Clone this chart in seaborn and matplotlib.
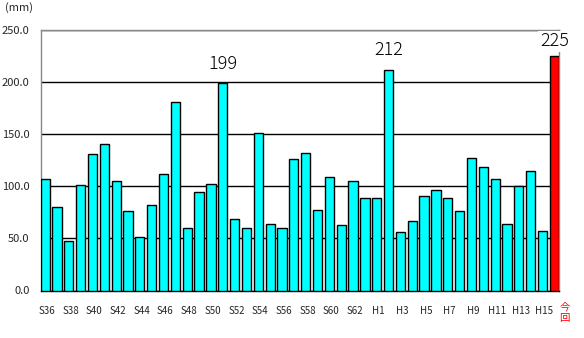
import matplotlib
matplotlib.use("Agg")
import matplotlib.pyplot as plt
import seaborn as sns
import pandas as pd

sns.set_theme(style="white")
plt.rcParams['font.family'] = ['Noto Sans CJK JP', 'DejaVu Sans']

years = ["S36", "S37", "S38", "S39", "S40", "S41", "S42", "S43", "S44", "S45",
         "S46", "S47", "S48", "S49", "S50", "S51", "S52", "S53", "S54", "S55",
         "S56", "S57", "S58", "S59", "S60", "S61", "S62", "S63",
         "H1", "H2", "H3", "H4", "H5", "H6", "H7", "H8", "H9", "H10",
         "H11", "H12", "H13", "H14", "H15", "今回"]
rain = [107, 80, 48, 101, 131, 141, 105, 76, 51, 82,
        112, 181, 60, 95, 102, 199, 69, 60, 151, 64,
        60, 126, 132, 77, 109, 63, 105, 89,
        89, 212, 56, 67, 91, 97, 89, 76, 127, 119,
        107, 64, 100, 115, 57, 225]
kind = ["past"] * 43 + ["now"]
tick_labels = ["S36", "S38", "S40", "S42", "S44", "S46", "S48", "S50", "S52", "S54",
               "S56", "S58", "S60", "S62", "H1", "H3", "H5", "H7", "H9", "H11",
               "H13", "H15"]
current_label = "今\n回"
annotated = ["S51", "H2", "今回"]

df = pd.DataFrame({"year": years, "rain": rain, "kind": kind})

fig = plt.figure(figsize=(5.84, 3.38), dpi=100)
ax = fig.add_axes([40.5 / 584, 1 - 290.5 / 338, (559 - 40.5) / 584, (290.5 - 30.3) / 338])

sns.barplot(data=df, x="year", y="rain", hue="kind",
            palette={"past": "#00FFFF", "now": "#FF0000"}, saturation=1,
            dodge=False, width=0.78, edgecolor="black", linewidth=1.0,
            legend=False, ax=ax, zorder=3)

ax.set_yticks([0, 50, 100, 150, 200, 250])
ax.set_yticklabels(["0.0", "50.0", "100.0", "150.0", "200.0", "250.0"])
ax.yaxis.grid(True, color="black", linewidth=1.0, zorder=0)
ax.xaxis.grid(False)
ax.set_axisbelow(True)

pos = [p + 0.15 for p in range(0, 43, 2)]
ax.set_xticks(pos)
ax.set_xticklabels(tick_labels, fontsize=7)
ax.set_ylim(0, 250)
ax.set_xlim(-0.39, len(years) - 1 + 0.39)

ax.annotate(current_label, xy=(len(years) - 1, 0), xycoords=("data", "axes fraction"),
            xytext=(7.5, -8.5), textcoords="offset points", ha="center", va="top",
            fontsize=7.5, color="red", linespacing=1.05, annotation_clip=False)

ax.tick_params(axis="x", length=0, pad=11)
ax.tick_params(axis="y", length=0, pad=8, labelsize=8)
ax.set_xlabel("")
ax.set_ylabel("")

for s in ["left", "top", "right"]:
    ax.spines[s].set_color("#888888")
    ax.spines[s].set_linewidth(1.0)
ax.spines["bottom"].set_color("black")
ax.spines["bottom"].set_linewidth(1.0)

for name in annotated:
    i = years.index(name)
    v = rain[i]
    if name == "今回":
        ax.text(i, v + 6, f"{v}", ha="center", va="bottom", fontsize=13,
                fontweight="light", color="black", zorder=5,
                bbox=dict(facecolor="white", edgecolor="none", pad=1))
    else:
        ax.text(i, v + 10, f"{v}", ha="center", va="bottom", fontsize=13,
                fontweight="light", color="black", zorder=5)

fig.text(19 / 584, 1 - 8 / 338, "(mm)", ha="center", va="center", fontsize=8)

fig.savefig("out.png", dpi=100)
